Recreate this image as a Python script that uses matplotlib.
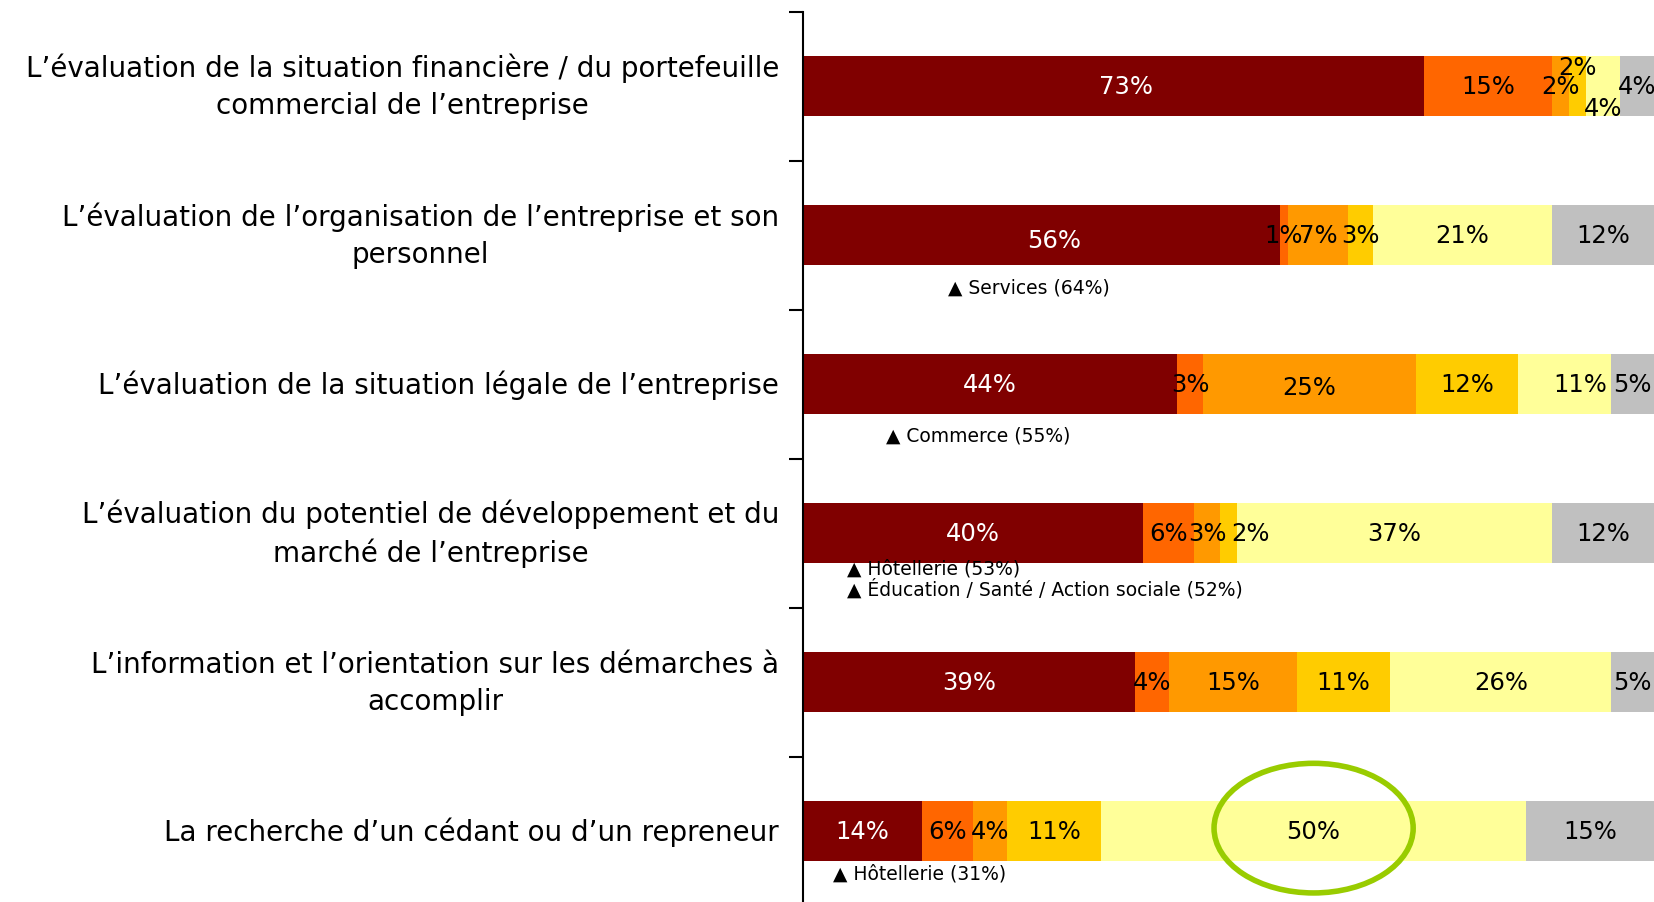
import matplotlib.pyplot as plt
from matplotlib.patches import Ellipse

# Categories (top to bottom)
categories = [
    "L\u2019évaluation de la situation financière / du portefeuille\ncommercial de l\u2019entreprise",
    "L\u2019évaluation de l\u2019organisation de l\u2019entreprise et son\npersonnel",
    "L\u2019évaluation de la situation légale de l\u2019entreprise",
    "L\u2019évaluation du potentiel de développement et du\nmarché de l\u2019entreprise",
    "L\u2019information et l\u2019orientation sur les démarches à\naccomplir",
    "La recherche d\u2019un cédant ou d\u2019un repreneur",
]

# Stacked segments, in %
seg1 = [73, 56, 44, 40, 39, 14]
seg2 = [15, 1, 3, 6, 4, 6]
seg3 = [2, 7, 25, 3, 15, 4]
seg4 = [2, 3, 12, 2, 11, 11]
seg5 = [4, 21, 11, 37, 26, 50]
seg6 = [4, 12, 5, 12, 5, 15]
series = [seg1, seg2, seg3, seg4, seg5, seg6]

colors = ['#800000', '#FF6600', '#FF9900', '#FFCC00', '#FFFF99', '#C0C0C0']
text_colors = ['white', 'black', 'black', 'black', 'black', 'black']

# Sector notes under some bars: (row, x position, y offset, text)
notes = [
    (1, 17.0, 0.35, '\u25B2 Services (64%)'),
    (2, 9.8, 0.34, '\u25B2 Commerce (55%)'),
    (3, 5.2, 0.235, '\u25B2 Hôtellerie (53%)'),
    (3, 5.2, 0.37, '\u25B2 Éducation / Santé / Action sociale (52%)'),
    (5, 3.5, 0.28, '\u25B2 Hôtellerie (31%)'),
]

# label nudges for crowded labels (row, segment) -> (dx, dy)
label_nudge = {
    (0, 0): (1.5, 0), (0, 3): (0, -0.13), (0, 4): (0, 0.145),
    (1, 0): (1.5, 0.035), (2, 2): (0, 0.02), (2, 4): (1.8, 0),
    (3, 3): (2.6, 0),
}

fig = plt.figure(figsize=(16.54, 9.03), dpi=100)
fig.set_facecolor('white')
ax = fig.add_axes([0.4855, -0.004, 0.5145, 0.99])

rows = range(len(categories))
left = [0] * len(categories)
for k, vals in enumerate(series):
    ax.barh(rows, vals, left=left, height=0.4, color=colors[k], edgecolor='none')
    for i, v in enumerate(vals):
        dx, dy = label_nudge.get((i, k), (0, 0))
        ax.text(left[i] + v / 2 + dx, i + dy, f'{v}%', ha='center', va='center',
                fontsize=17.5, color=text_colors[k], clip_on=False)
    left = [a + b for a, b in zip(left, vals)]

ax.set_xlim(0, 100)
ax.set_ylim(5.5, -0.5)

# Category labels on the left
for i, lab in enumerate(categories):
    ax.text(-2.8, i, lab, ha='right', va='center', fontsize=20,
            linespacing=1.4, multialignment='center', color='black')

# Notes
for row, x, dy, txt in notes:
    ax.text(x, row + dy, txt, ha='left', va='center', fontsize=13.5, color='black')

# Highlight circle around the 50%
ax.add_patch(Ellipse((60.0, 4.98), 23.4, 0.87, fill=False, edgecolor='#99CC00',
                     linewidth=4, clip_on=False, zorder=5))

# Axes styling
for s in ['top', 'right', 'bottom']:
    ax.spines[s].set_visible(False)
ax.spines['left'].set_color('black')
ax.spines['left'].set_linewidth(1.5)
ax.set_xticks([])
ax.set_yticks([])
ax.set_yticks([i - 0.5 for i in range(len(categories) + 1)], minor=True)
ax.tick_params(axis='y', which='minor', length=10, width=1.5, direction='out', labelleft=False)

fig.savefig('out.png', dpi=100, facecolor='white')
